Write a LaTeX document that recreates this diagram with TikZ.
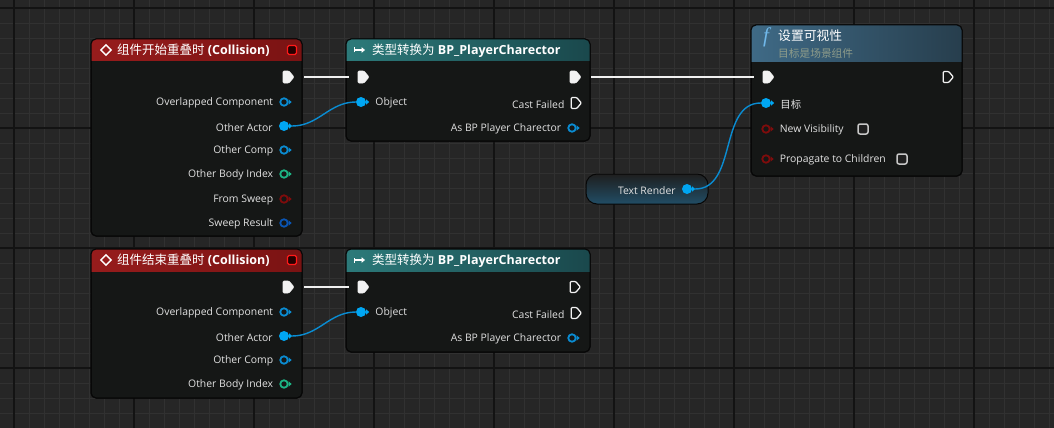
\documentclass[tikz,border=0pt]{standalone}
\usepackage{fontspec}
\setmainfont{Open Sans}
\newfontfamily\cjk{Noto Sans CJK SC}
\newfontfamily\iconfont{Liberation Serif}
\usepackage{xcolor}
\usetikzlibrary{shapes.geometric,shapes.symbols,arrows.meta}

\definecolor{graphbg}{HTML}{262626}
\definecolor{gridminor}{HTML}{313131}
\definecolor{gridmajor}{HTML}{131313}
\definecolor{bodyfill}{HTML}{151716}
\definecolor{bodyline}{HTML}{070707}
\definecolor{objblue}{HTML}{00A6F2}
\definecolor{ringblue}{HTML}{0A8CD2}
\definecolor{deepblue}{HTML}{0A55B4}
\definecolor{intgreen}{HTML}{1DB585}
\definecolor{boolred}{HTML}{7E0C0C}
\definecolor{labelgrey}{HTML}{E2E2E2}
\definecolor{subgrey}{HTML}{8E9C8A}
\definecolor{funcblue}{HTML}{70B8EA}
\definecolor{redA}{HTML}{971C1C}
\definecolor{redB}{HTML}{7A1313}
\definecolor{tealA}{HTML}{2C7A7A}
\definecolor{tealB}{HTML}{1A484C}
\definecolor{funcA}{HTML}{3F6A86}
\definecolor{funcB}{HTML}{273E4D}

% header strip of a node, clipped to its rounded body
\newcommand{\headbar}[3]{%
  \begin{scope}
    \clip[rounded corners=5pt] (#1.north west) rectangle (#1.south east);
    \shade[#3] (#1.north west) rectangle ([yshift=-#2pt]#1.north east);
  \end{scope}
  \draw[bodyline, line width=1pt, rounded corners=5pt] (#1.north west) rectangle (#1.south east);}

\tikzset{
  body/.style={draw=bodyline, fill=bodyfill, rounded corners=5pt, anchor=north west, inner sep=0pt, outer sep=0pt, line width=1pt},
  redhead/.style={left color=redA, right color=redB},
  tealhead/.style={left color=tealA, right color=tealB},
  funchead/.style={left color=funcA, right color=funcB},
  exec on/.style={signal, signal to=east, signal pointer angle=100, fill=white!95!black, draw=white!95!black, line width=0.6pt, minimum width=11pt, minimum height=12pt, inner sep=0pt, rounded corners=1pt},
  exec off/.style={exec on, fill=none, line width=1.3pt, minimum width=10pt, minimum height=11pt},
  dot on/.style={circle, fill=#1, minimum size=10pt, inner sep=0pt},
  dot off/.style={circle, draw=#1, fill=bodyfill, line width=1.8pt, minimum size=7.5pt, inner sep=0pt},
  pinlabel/.style={text=labelgrey, font=\fontsize{10.4}{12}\selectfont, inner sep=0pt, yshift=-1.2pt},
  every label/.style={pinlabel},
  label distance=6pt,
  title/.style={text=white, font=\fontsize{12.5}{15}\selectfont\bfseries, inner sep=0pt, anchor=west},
  exec wire/.style={draw=white!94!black, line width=2.6pt, shorten <=10pt, shorten >=9pt},
  data wire/.style={draw=ringblue, line width=1.4pt},
  checkbox/.style={draw=white!78!black, fill=white!12!black, line width=1.5pt, rounded corners=2pt, minimum size=10pt, inner sep=0pt},
}

\begin{document}
\begin{tikzpicture}[x=1pt, y=-1pt]
\useasboundingbox (0,0) rectangle (1054,428);
\fill[graphbg] (0,0) rectangle (1054,428);
% grid
\foreach \gx in {14,29,...,1054} \draw[gridminor, line width=0.8pt] (\gx,0) -- (\gx,428);
\foreach \gy in {8,23,...,428} \draw[gridminor, line width=0.8pt] (0,\gy) -- (1054,\gy);
\foreach \gx in {14,134,...,974} \draw[gridmajor, line width=1.2pt] (\gx,0) -- (\gx,428);
\foreach \gy in {8,128,...,368} \draw[gridmajor, line width=1.2pt] (0,\gy) -- (1054,\gy);

% node bodies
\node[body, minimum width=211pt, minimum height=197pt] (a) at (91,39) {};
\headbar{a}{22}{redhead}
\node[body, minimum width=244pt, minimum height=102pt] (b) at (346,39) {};
\headbar{b}{22}{tealhead}
\node[body, minimum width=211pt, minimum height=151pt] (c) at (751,25) {};
\headbar{c}{37}{funchead}
\node[body, rounded corners=11pt, minimum width=122pt, minimum height=30pt, top color=black!88, bottom color=funcB!85!objblue] (d) at (586,174) {};
\node[body, minimum width=211pt, minimum height=149pt] (e) at (91,249) {};
\headbar{e}{22}{redhead}
\node[body, minimum width=244pt, minimum height=103pt] (f) at (346,249) {};
\headbar{f}{22}{tealhead}

% titles
\node[diamond, draw=white, line width=1.4pt, minimum size=11pt, inner sep=0pt] (a-icon) at (106,50) {};
\node[title] (a-title) at (117,50.5) {{\cjk\mdseries 组件开始重叠时} (Collision)};
\node[draw=red!90!white, fill=red!15!black, line width=1.4pt, rounded corners=1.5pt, minimum size=9pt, inner sep=0pt] (a-stop) at (292,50) {};
\node[diamond, draw=white, line width=1.4pt, minimum size=11pt, inner sep=0pt] (e-icon) at (106,260) {};
\node[title] (e-title) at (117,260.5) {{\cjk\mdseries 组件结束重叠时} (Collision)};
\node[draw=red!90!white, fill=red!15!black, line width=1.4pt, rounded corners=1.5pt, minimum size=9pt, inner sep=0pt] (e-stop) at (292,260) {};
\node[inner sep=0pt] (b-icon) at (360,50) {};
\draw[white, line width=1.3pt, {Bar[width=5pt]}-{Triangle[length=3.5pt,width=5.5pt]}] ([xshift=-6pt]b-icon.center) -- ([xshift=5pt]b-icon.center);
\node[title] (b-title) at (372,50.5) {{\cjk\mdseries 类型转换为} BP\_PlayerCharector};
\node[inner sep=0pt] (f-icon) at (360,260) {};
\draw[white, line width=1.3pt, {Bar[width=5pt]}-{Triangle[length=3.5pt,width=5.5pt]}] ([xshift=-6pt]f-icon.center) -- ([xshift=5pt]f-icon.center);
\node[title] (f-title) at (372,260.5) {{\cjk\mdseries 类型转换为} BP\_PlayerCharector};
\node[text=funcblue, font=\fontsize{21}{21}\selectfont\iconfont\itshape, inner sep=0pt] (c-icon) at (766,37) {f};
\node[title, font=\fontsize{12.8}{15}\selectfont] (c-title) at (778,36) {\cjk 设置可视性};
\node[title, text=subgrey, font=\fontsize{10.7}{13}\selectfont] (c-sub) at (778,53) {\cjk 目标是场景组件};

% pins of the begin overlap event
\node[exec on] (a-exec) at (286,77) {};
\node[dot off=ringblue, label=left:Overlapped Component] (a-ov) at (284,102) {};
\node[dot on=objblue, label=left:Other Actor] (a-actor) at (284,126) {};
\node[dot off=ringblue, label=left:Other Comp] (a-comp) at (284,150) {};
\node[dot off=intgreen, label=left:Other Body Index] (a-idx) at (284,174) {};
\node[dot off=boolred, label=left:From Sweep] (a-sweep) at (284,199) {};
\node[dot off=deepblue, label=left:Sweep Result] (a-res) at (284,223) {};

% pins of the upper cast
\node[exec on] (b-exec) at (361,77) {};
\node[exec on] (b-then) at (573,77) {};
\node[dot on=objblue, label={[label distance=9pt]right:Object}] (b-obj) at (361,102) {};
\node[exec off, label=left:Cast Failed] (b-fail) at (574,103) {};
\node[dot off=ringblue, label=left:As BP Player Charector] (b-as) at (572,128) {};

% pins of set visibility
\node[exec on] (c-exec) at (766,77) {};
\node[exec off] (c-then) at (946,77) {};
\node[dot on=objblue, label={[label distance=9pt]right:{\cjk 目标}}] (c-target) at (766,103) {};
\node[dot off=boolred, label={[label distance=9pt]right:New Visibility}] (c-vis) at (766,129) {};
\node[checkbox] (c-vis-box) at (863,129) {};
\node[dot off=boolred, label={[label distance=9pt]right:Propagate to Children}] (c-prop) at (766,159) {};
\node[checkbox] (c-prop-box) at (902,159) {};

% text render getter
\node[dot on=objblue, label=left:Text Render] (d-out) at (687,189) {};

% pins of the end overlap event
\node[exec on] (e-exec) at (286,287) {};
\node[dot off=ringblue, label=left:Overlapped Component] (e-ov) at (284,312) {};
\node[dot on=objblue, label=left:Other Actor] (e-actor) at (284,336) {};
\node[dot off=ringblue, label=left:Other Comp] (e-comp) at (284,360) {};
\node[dot off=intgreen, label=left:Other Body Index] (e-idx) at (284,384) {};

% pins of the lower cast
\node[exec on] (f-exec) at (361,287) {};
\node[exec off] (f-then) at (573,287) {};
\node[dot on=objblue, label={[label distance=9pt]right:Object}] (f-obj) at (361,312) {};
\node[exec off, label=left:Cast Failed] (f-fail) at (574,313) {};
\node[dot off=ringblue, label=left:As BP Player Charector] (f-as) at (572,338) {};

% little arrow tips on the data pins
\foreach \p/\c in {a-ov/ringblue, a-actor/objblue, a-comp/ringblue, a-idx/intgreen, a-sweep/boolred, a-res/deepblue,
  b-obj/objblue, b-as/ringblue, c-target/objblue, c-vis/boolred, c-prop/boolred, d-out/objblue,
  e-ov/ringblue, e-actor/objblue, e-comp/ringblue, e-idx/intgreen, f-obj/objblue, f-as/ringblue}
  \fill[\c] ([yshift=2.6pt]\p.east) -- ++(3,2.6) -- ++(-3,2.6) -- cycle;

% wires
\draw[exec wire] (a-exec.east) -- (b-exec.west);
\draw[exec wire] (b-then.east) -- (c-exec.west);
\draw[exec wire] (e-exec.east) -- (f-exec.west);
\draw[data wire] ([xshift=3pt]a-actor.east) to[out=0, in=180] (b-obj.west);
\draw[data wire] ([xshift=3pt]e-actor.east) to[out=0, in=180] (f-obj.west);
\draw[data wire] ([xshift=3pt]d-out.east) to[out=0, in=180] (c-target.west);
\end{tikzpicture}
\end{document}
